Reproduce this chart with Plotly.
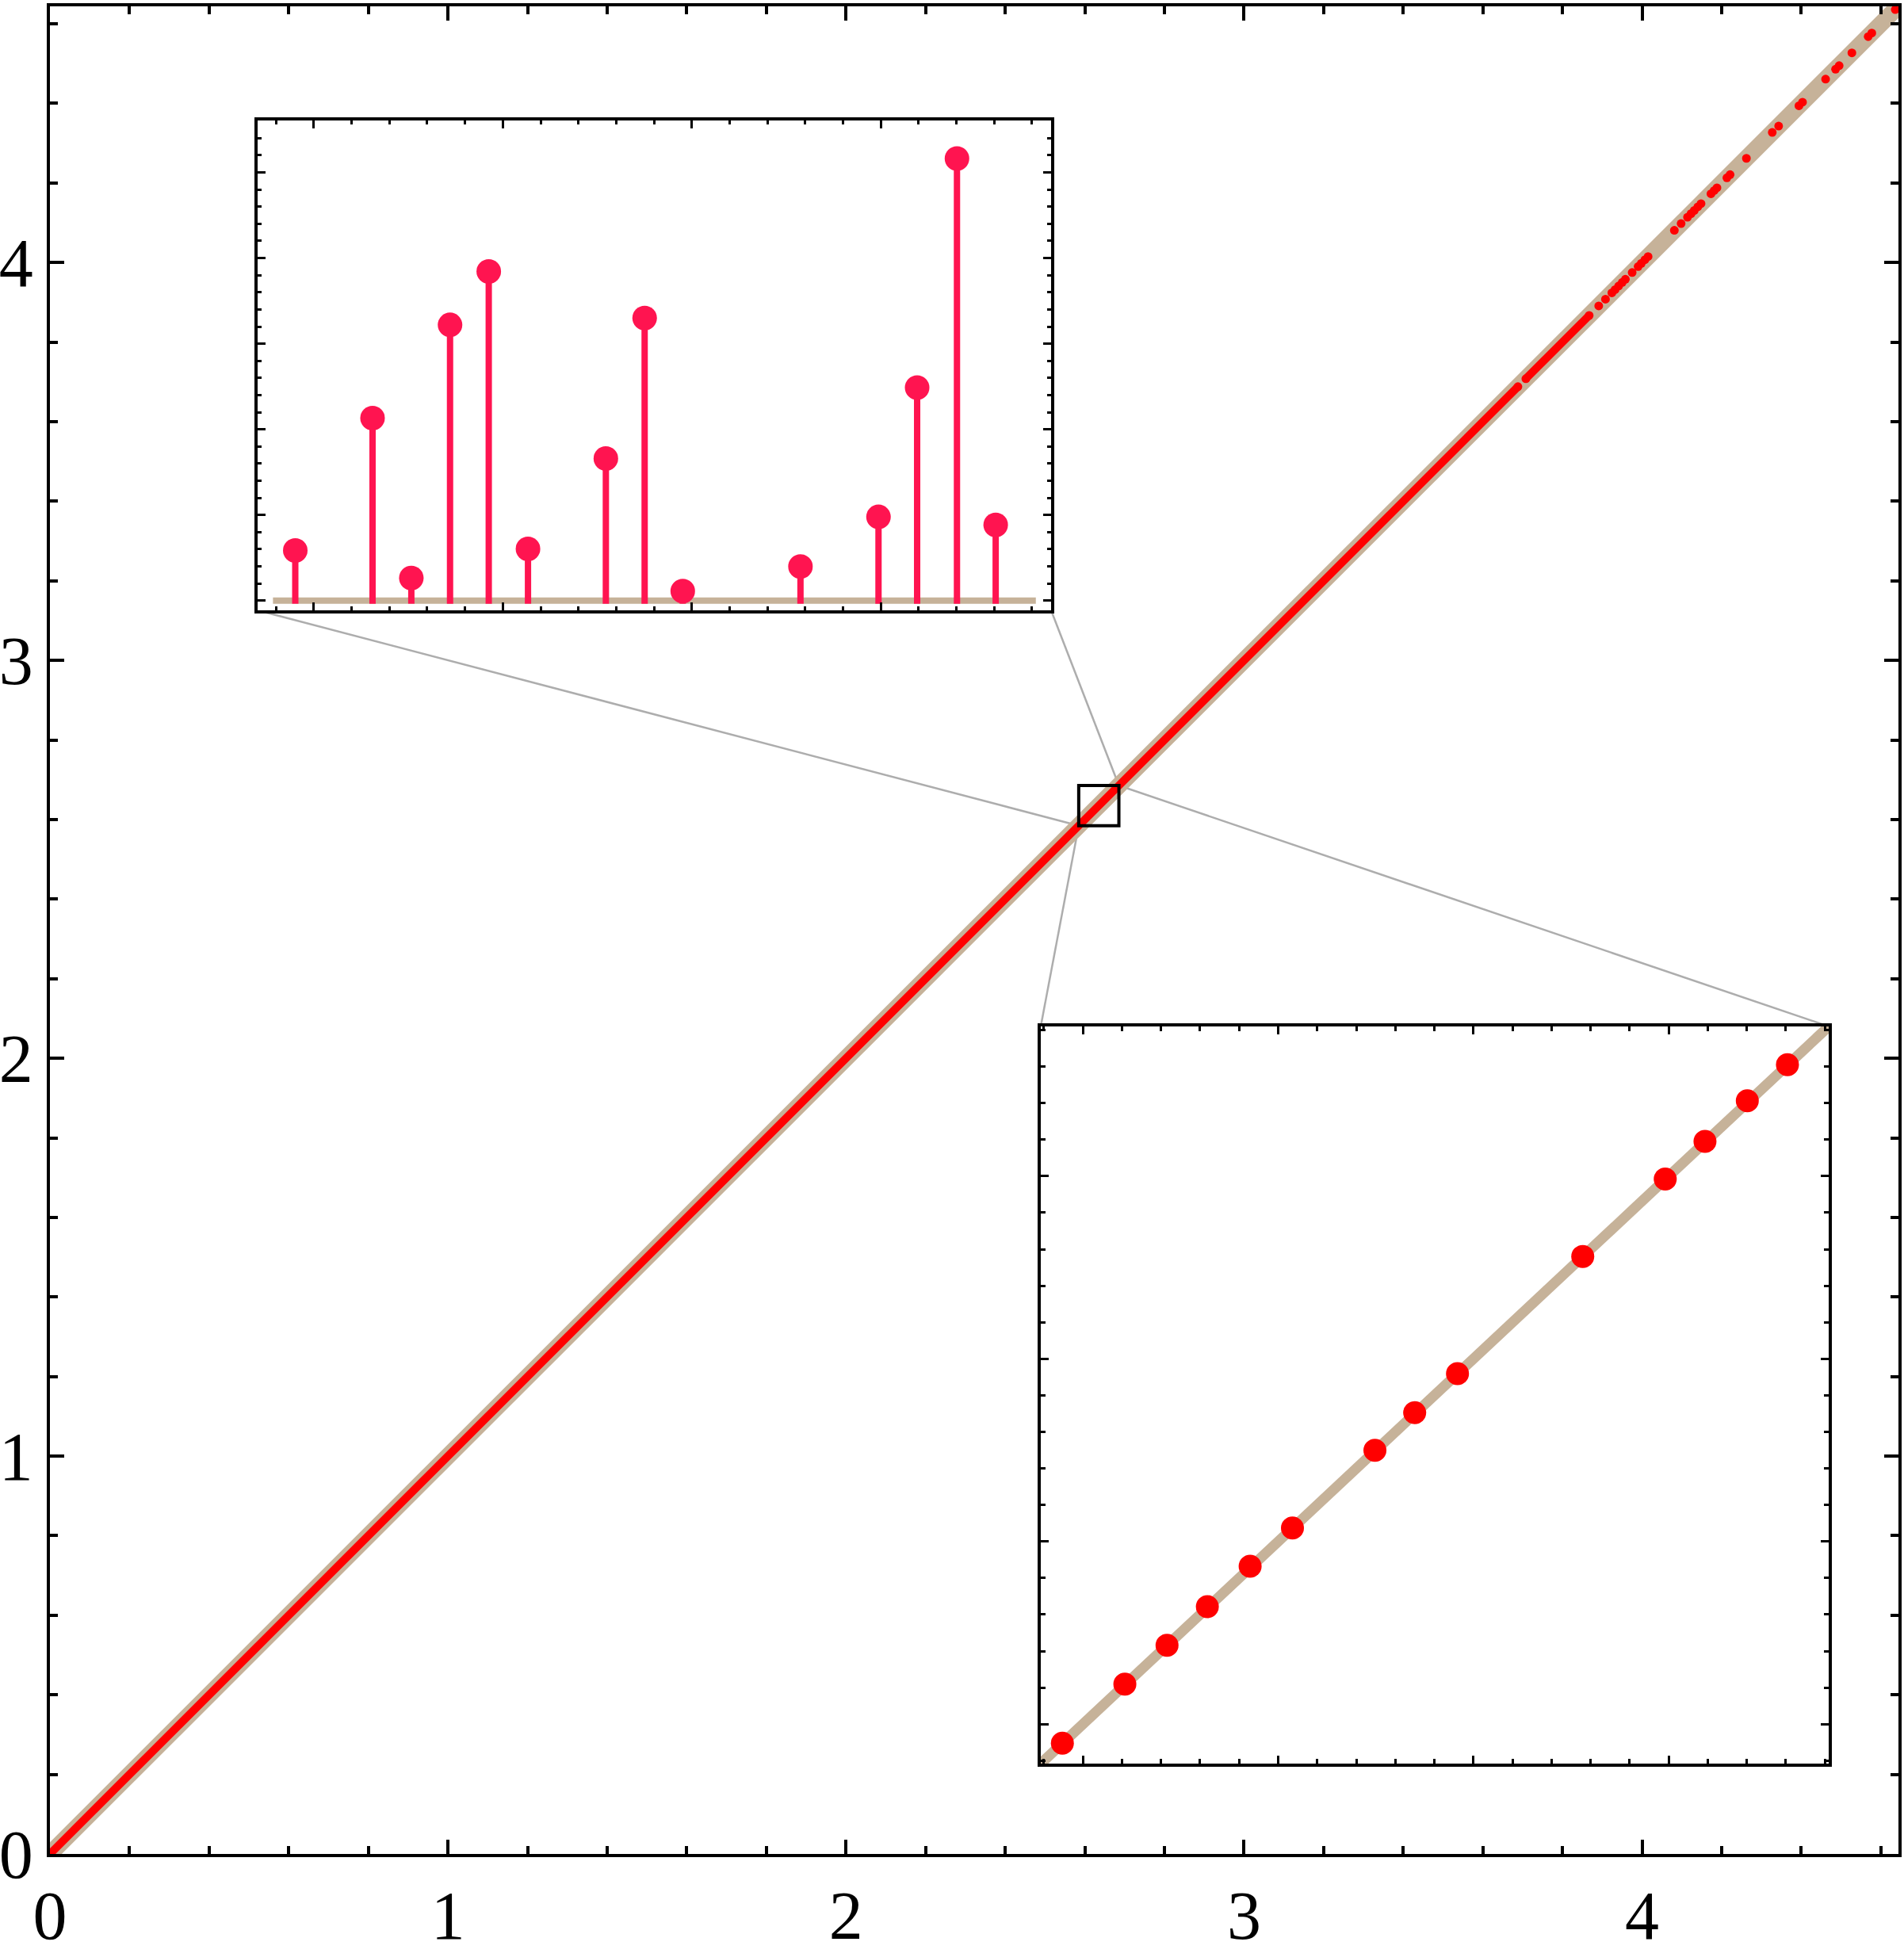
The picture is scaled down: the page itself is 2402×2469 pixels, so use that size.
import plotly.graph_objects as go

# ---------------- data ----------------
# main plot: dense stretches of points (drawn as runs) and isolated points
run_start = [0.0, 3.708]
run_end = [3.688, 3.867]
dots_x = [3.891, 3.908, 3.924, 3.932, 3.941, 3.950, 3.958, 3.975,
          3.990, 3.998, 4.007, 4.015, 4.081, 4.098, 4.114, 4.123, 4.131,
          4.140, 4.148, 4.173, 4.181, 4.188, 4.213, 4.221, 4.262, 4.327,
          4.343, 4.394, 4.403, 4.461, 4.486, 4.495, 4.527, 4.568, 4.577,
          4.636]

# zoomed window
zoom_lo, zoom_hi = 2.5846, 2.6855
# points inside the window (bottom-right inset)
zoom_x = [2.58737, 2.59537, 2.60077, 2.60593, 2.61141, 2.61683, 2.62739,
          2.63248, 2.63796, 2.65400, 2.66456, 2.66965, 2.67507, 2.68021]
# stem positions as drawn in the top-left inset
stem_x = [2.58755, 2.59777, 2.60290, 2.60802, 2.61314, 2.61833, 2.62863,
          2.63376, 2.63880, 2.65437, 2.66469, 2.66980, 2.67507, 2.68019]
# deviations from the diagonal (arbitrary units, 1 unit = 1 minor tick)
resid = [2.93, 10.66, 1.32, 16.10, 19.22, 3.02, 8.30, 16.50, 0.56, 1.99,
         4.89, 12.44, 25.81, 4.42]

# ---------------- style / layout ----------------
W, H = 2402, 2469
ML, MR, MT, MB = 63, 7, 8, 130
RMAX = 4.644
TAN = "#C6B299"
RED = "#FF0000"
CRIMSON = "#FF1450"
GRAY = "#ADADAD"
FONT = "Liberation Serif"

TL_dom_x = [0.1124, 0.5416]
TL_dom_y = [0.6731, 0.9382]
BR_dom_x = [0.5360, 0.9623]
BR_dom_y = [0.0489, 0.4479]

fig = go.Figure()

# connector lines (main data coordinates)
cx = [TL_dom_x[0] * RMAX, zoom_lo, None,
      TL_dom_x[1] * RMAX, zoom_hi, None,
      zoom_lo, BR_dom_x[0] * RMAX, None,
      zoom_hi, BR_dom_x[1] * RMAX]
cy = [TL_dom_y[0] * RMAX, zoom_lo, None,
      TL_dom_y[0] * RMAX, zoom_hi, None,
      zoom_lo, BR_dom_y[1] * RMAX, None,
      zoom_hi, BR_dom_y[1] * RMAX]
fig.add_trace(go.Scatter(x=cx, y=cy, mode="lines",
                         line=dict(color=GRAY, width=2.5),
                         hoverinfo="skip", showlegend=False))

# diagonal
fig.add_trace(go.Scatter(x=[0, RMAX], y=[0, RMAX], mode="lines",
                         line=dict(color=TAN, width=21),
                         hoverinfo="skip", showlegend=False))

# dense runs
rx, ry = [], []
for a, b in zip(run_start, run_end):
    rx += [a, b, None]
    ry += [a, b, None]
fig.add_trace(go.Scatter(x=rx, y=ry, mode="lines",
                         line=dict(color=RED, width=10),
                         hoverinfo="skip", showlegend=False))
ends = run_start[1:] + run_end + dots_x
fig.add_trace(go.Scatter(x=ends, y=ends, mode="markers",
                         marker=dict(color=RED, size=11, line=dict(width=0)),
                         showlegend=False))

# ---- top-left inset: residual stems ----
fig.add_trace(go.Scatter(x=[zoom_lo, zoom_hi], y=[0, 0], mode="lines",
                         line=dict(color=TAN, width=8),
                         xaxis="x2", yaxis="y2", showlegend=False))
sx, sy = [], []
for xv, rv in zip(stem_x, resid):
    sx += [xv, xv, None]
    sy += [-0.18, rv, None]
fig.add_trace(go.Scatter(x=sx, y=sy, mode="lines",
                         line=dict(color=CRIMSON, width=8),
                         xaxis="x2", yaxis="y2", showlegend=False))
fig.add_trace(go.Scatter(x=stem_x, y=resid, mode="markers",
                         marker=dict(color=CRIMSON, size=31, line=dict(width=0)),
                         xaxis="x2", yaxis="y2", showlegend=False))

# ---- bottom-right inset: zoomed points ----
fig.add_trace(go.Scatter(x=[zoom_lo, zoom_hi], y=[zoom_lo, zoom_hi],
                         mode="lines", line=dict(color=TAN, width=13),
                         xaxis="x3", yaxis="y3", showlegend=False))
zoom_y = [xv + rv * 1e-5 for xv, rv in zip(zoom_x, resid)]
fig.add_trace(go.Scatter(x=zoom_x, y=zoom_y, mode="markers",
                         marker=dict(color=RED, size=29, line=dict(width=0)),
                         xaxis="x3", yaxis="y3", showlegend=False))

# zoom box in main plot
fig.add_shape(type="rect", xref="x", yref="y",
              x0=zoom_lo, x1=zoom_hi, y0=zoom_lo, y1=zoom_hi,
              line=dict(color="black", width=4), layer="above")

main_ax = dict(range=[0, RMAX], showgrid=False, zeroline=False,
               automargin=False,
               showline=True, linewidth=4, linecolor="black", mirror="allticks",
               ticks="inside", ticklen=18, tickwidth=3.5, tickcolor="black",
               dtick=1, tick0=0,
               minor=dict(dtick=0.2, tick0=0, ticks="inside", ticklen=10,
                          tickwidth=3.5, tickcolor="black"),
               tickfont=dict(family=FONT, size=86, color="black"))

inset_common = dict(showgrid=False, zeroline=False, showline=True,
                    automargin=False,
                    linewidth=3.5, linecolor="black", mirror="allticks",
                    ticks="inside", ticklen=10, tickwidth=3, tickcolor="black",
                    showticklabels=False)

pad = 0.02 * (zoom_hi - zoom_lo)
fig.update_layout(
    width=W, height=H,
    margin=dict(l=ML, r=MR, t=MT, b=MB, autoexpand=False),
    paper_bgcolor="white", plot_bgcolor="white",
    showlegend=False,
    xaxis=dict(**main_ax),
    yaxis=dict(**main_ax),
    xaxis2=dict(**inset_common, domain=TL_dom_x, anchor="y2",
                range=[zoom_lo - pad, zoom_hi + pad], tick0=2.59, dtick=0.025,
                minor=dict(dtick=0.005, tick0=2.59, ticks="inside", ticklen=5,
                           tickwidth=3, tickcolor="black")),
    yaxis2=dict(**inset_common, domain=TL_dom_y, anchor="x2",
                range=[-0.565, 28.03], tick0=0, dtick=5,
                minor=dict(dtick=1, tick0=0, ticks="inside", ticklen=5,
                           tickwidth=3, tickcolor="black")),
    xaxis3=dict(**inset_common, domain=BR_dom_x, anchor="y3",
                range=[zoom_lo, zoom_hi], tick0=2.59, dtick=0.025,
                minor=dict(dtick=0.005, tick0=2.59, ticks="inside", ticklen=6,
                           tickwidth=3, tickcolor="black")),
    yaxis3=dict(**inset_common, domain=BR_dom_y, anchor="x3",
                range=[zoom_lo, zoom_hi], tick0=2.59, dtick=0.025,
                minor=dict(dtick=0.005, tick0=2.59, ticks="inside", ticklen=6,
                           tickwidth=3, tickcolor="black")),
)

fig.write_html(
    "out.html",
    config={"displayModeBar": False},
    post_script="document.body.style.margin='0';"
                "document.body.style.overflow='hidden';",
)
